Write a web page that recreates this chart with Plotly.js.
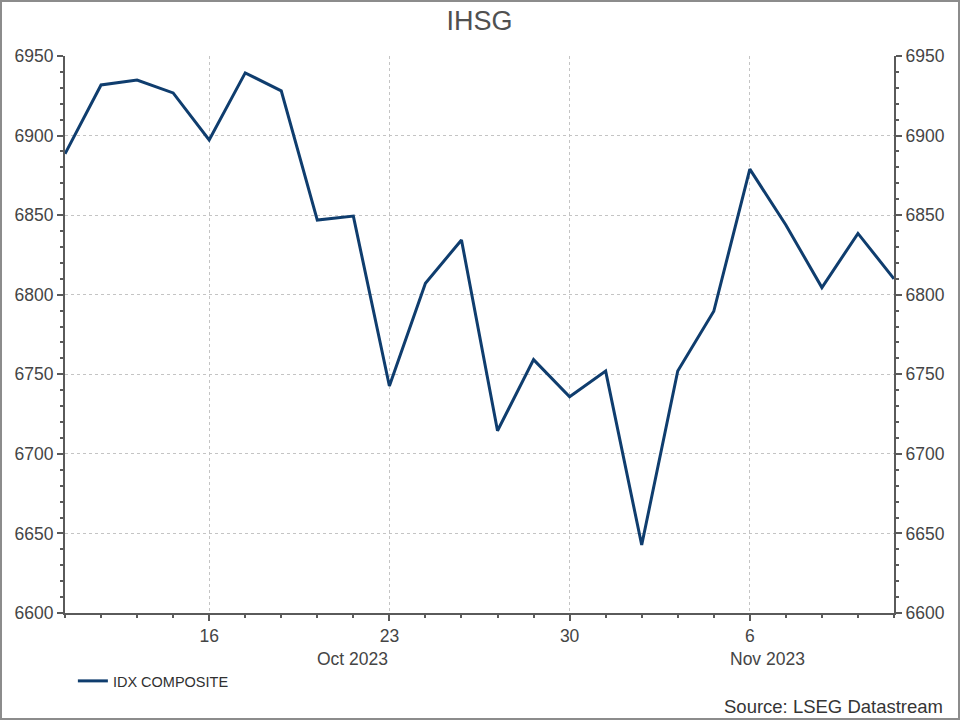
<!DOCTYPE html>
<html>
<head>
<meta charset="utf-8">
<script src="https://cdn.plot.ly/plotly-3.0.1.min.js"></script>
<style>
  html, body { margin: 0; padding: 0; background: #fff; }
  #wrap { position: relative; width: 960px; height: 720px; }
  #chart { width: 960px; height: 720px; }
  #frame { position: absolute; left: 0; top: 0; width: 960px; height: 720px; box-sizing: border-box;
           border: 2px solid #8c8c8c; pointer-events: none; }
</style>
</head>
<body>
<div id="wrap"><div id="chart"></div><div id="frame"></div></div>
<script>
const dates = [
  '2023-10-10','2023-10-11','2023-10-12','2023-10-13',
  '2023-10-16','2023-10-17','2023-10-18','2023-10-19','2023-10-20',
  '2023-10-23','2023-10-24','2023-10-25','2023-10-26','2023-10-27',
  '2023-10-30','2023-10-31','2023-11-01','2023-11-02','2023-11-03',
  '2023-11-06','2023-11-07','2023-11-08','2023-11-09','2023-11-10'
];
const idxComposite = [
  6888.5, 6931.8, 6934.9, 6926.8,
  6897.2, 6939.4, 6928.1, 6846.9, 6849.4,
  6742.6, 6807.2, 6834.4, 6714.5, 6759.2,
  6735.9, 6752.0, 6642.7, 6752.1, 6789.6,
  6878.9, 6843.8, 6804.5, 6838.5, 6810.0
];
const tickDates = ['2023-10-16','2023-10-23','2023-10-30','2023-11-06'];
const tickLabels = ['16','23','30','6'];
const monthLabels = ['Oct 2023','Nov 2023'];
const seriesName = 'IDX COMPOSITE';
const titleText = 'IHSG';
const sourceText = 'Source: LSEG Datastream';

const FONT = 'Liberation Sans, Arial, sans-serif';
const lineColor = '#0f3d6e';
const axisColor = '#5a5a5a';
const textColor = '#454545';
const gridColor = '#c4c4c4';

const traces = [
  { x: dates, y: idxComposite, type: 'scatter', mode: 'lines', name: seriesName,
    line: { color: lineColor, width: 3 }, xaxis: 'x', yaxis: 'y' },
  { x: dates, y: idxComposite, type: 'scatter', mode: 'lines', showlegend: false,
    hoverinfo: 'skip', opacity: 0, line: { width: 0 }, xaxis: 'x', yaxis: 'y2' }
];

const yCommon = {
  range: [6600, 6950], dtick: 50, tick0: 6600,
  showline: true, linecolor: axisColor, linewidth: 2,
  ticks: 'outside', ticklen: 6, tickwidth: 2, tickcolor: axisColor,
  tickfont: { family: FONT, size: 17.5, color: textColor },
  minor: { dtick: 10, ticks: 'outside', ticklen: 3, tickwidth: 2, tickcolor: axisColor, showgrid: false },
  zeroline: false, fixedrange: true
};

const layout = {
  width: 960, height: 720,
  margin: { l: 65, r: 66, t: 56, b: 107 },
  paper_bgcolor: '#ffffff', plot_bgcolor: '#ffffff',
  font: { family: FONT, color: textColor },
  title: { text: titleText, font: { family: FONT, size: 27, color: '#505050' },
           x: 0.5, xanchor: 'center', xref: 'paper', y: 0.972, yanchor: 'middle', yref: 'container' },
  showlegend: true,
  legend: { orientation: 'h', x: 0.0095, xanchor: 'left', y: -0.122, yanchor: 'middle',
            font: { family: FONT, size: 14.5, color: '#303030' }, bgcolor: 'rgba(0,0,0,0)' },
  xaxis: {
    type: 'date', range: [dates[0], dates[dates.length - 1]],
    rangebreaks: [{ bounds: ['sat', 'mon'] }],
    tickmode: 'array', tickvals: tickDates, ticktext: tickLabels,
    tickfont: { family: FONT, size: 17.5, color: textColor },
    showline: true, linecolor: axisColor, linewidth: 2,
    ticks: 'outside', ticklen: 6, tickwidth: 2, tickcolor: axisColor,
    minor: { tickmode: 'array', tickvals: dates, ticks: 'outside', ticklen: 3, tickwidth: 2, tickcolor: axisColor, showgrid: false },
    showgrid: true, gridcolor: gridColor, griddash: 'dot', gridwidth: 1,
    zeroline: false, fixedrange: true
  },
  yaxis: Object.assign({}, yCommon, { side: 'left', showgrid: true, gridcolor: gridColor, griddash: 'dot', gridwidth: 1 }),
  yaxis2: Object.assign({}, yCommon, { side: 'right', overlaying: 'y', showgrid: false }),
  annotations: [
    { text: monthLabels[0], xref: 'paper', yref: 'paper', x: 0.347, y: -0.083, xanchor: 'center', yanchor: 'middle',
      showarrow: false, font: { family: FONT, size: 17.5, color: textColor } },
    { text: monthLabels[1], xref: 'paper', yref: 'paper', x: 0.848, y: -0.083, xanchor: 'center', yanchor: 'middle',
      showarrow: false, font: { family: FONT, size: 17.5, color: textColor } },
    { text: sourceText, xref: 'paper', yref: 'paper', x: 1.0615, y: -0.168, xanchor: 'right', yanchor: 'middle',
      showarrow: false, font: { family: FONT, size: 18.5, color: '#353535' } }
  ]
};

Plotly.newPlot('chart', traces, layout, { staticPlot: true, displayModeBar: false });
</script>
</body>
</html>
